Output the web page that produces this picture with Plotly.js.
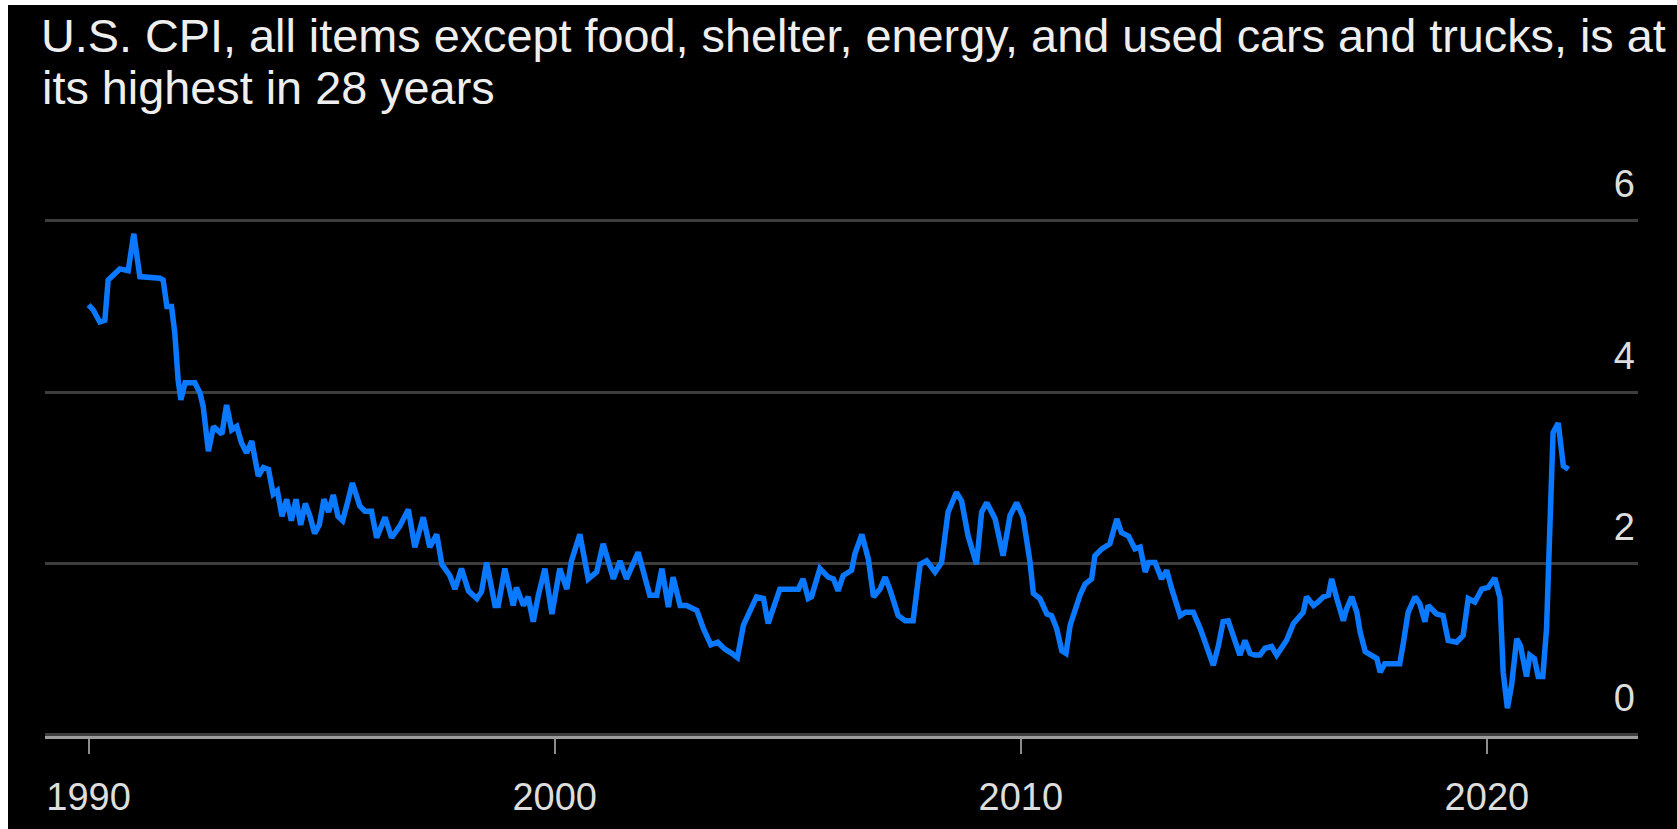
<!DOCTYPE html>
<html>
<head>
<meta charset="utf-8">
<script src="https://cdn.plot.ly/plotly-3.0.1.min.js"></script>
<style>
  html, body { margin: 0; padding: 0; background: #ffffff; overflow: hidden; }
  #chart { position: absolute; left: 8px; top: 5px; width: 1669px; height: 824px; background: #000; }
</style>
</head>
<body>
<div id="chart"></div>
<script>
// Decimal year of each reading
const years = [
  1990.00,1990.10,1990.24,1990.35,1990.42,1990.53,1990.67,1990.85,1990.97,1991.10,
  1991.53,1991.60,1991.68,1991.78,1991.85,1991.92,1991.98,1992.07,1992.28,1992.39,
  1992.46,1992.57,1992.68,1992.86,1992.96,1993.07,1993.18,1993.28,1993.39,1993.50,
  1993.57,1993.64,1993.75,1993.86,1993.96,
  1994.05,1994.15,1994.25,1994.35,1994.45,1994.55,1994.65,1994.75,1994.85,1994.95,
  1995.05,1995.15,1995.25,1995.35,1995.45,1995.55,1995.66,
  1995.82,1995.93,1996.07,1996.18,1996.36,1996.50,1996.68,1996.86,1997.00,1997.18,
  1997.32,1997.47,1997.58,1997.75,1997.86,1998.00,1998.15,1998.33,1998.43,1998.54,
  1998.72,1998.79,1998.93,1999.11,1999.18,1999.33,1999.43,1999.54,1999.65,1999.79,
  1999.94,2000.11,2000.26,2000.36,2000.54,2000.72,2000.90,2001.04,2001.26,2001.40,
  2001.54,2001.79,2002.04,2002.19,2002.30,2002.44,2002.54,2002.69,2002.83,2003.05,
  2003.19,2003.35,2003.50,2003.65,2003.80,2003.92,2004.05,2004.33,2004.48,2004.58,
  2004.83,2005.23,2005.33,2005.44,2005.51,2005.69,2005.87,2005.98,2006.08,2006.19,
  2006.37,2006.44,2006.59,2006.73,2006.84,2006.98,2007.09,2007.19,2007.37,2007.52,
  2007.69,2007.84,2007.98,2008.16,2008.30,2008.44,2008.62,2008.73,2008.87,2009.05,
  2009.16,2009.27,2009.45,2009.62,2009.77,2009.91,2010.05,2010.20,2010.27,2010.41,
  2010.56,2010.66,2010.77,2010.88,2010.97,2011.06,2011.27,2011.38,2011.52,2011.59,
  2011.74,2011.91,2012.06,2012.16,2012.31,2012.45,2012.56,2012.67,2012.74,2012.88,
  2013.02,2013.13,2013.24,2013.42,2013.53,2013.70,2013.85,2013.99,2014.13,2014.24,
  2014.34,2014.45,2014.60,2014.70,2014.81,2014.92,2015.02,2015.13,2015.24,2015.38,
  2015.49,2015.60,2015.70,2015.85,2015.95,2016.06,2016.13,2016.28,2016.38,2016.49,
  2016.60,2016.67,2016.78,2016.85,2016.92,2016.99,2017.10,2017.21,2017.28,2017.39,
  2017.53,2017.64,2017.71,2017.81,2017.99,2018.13,2018.21,2018.31,2018.46,2018.56,
  2018.67,2018.74,2018.92,2019.06,2019.17,2019.35,2019.49,2019.60,2019.74,2019.89,
  2020.03,2020.17,2020.28,2020.35,2020.44,2020.53,2020.64,2020.72,2020.85,2020.92,
  2021.02,2021.10,2021.20,2021.28,2021.35,2021.42,2021.53,2021.64,2021.75
];

// Year-over-year % change, CPI ex food, shelter, energy, used cars & trucks
const cpiValues = [
  5.02,4.96,4.82,4.84,5.31,5.37,5.44,5.42,5.85,5.35,
  5.33,5.31,5.00,5.00,4.69,4.15,3.91,4.11,4.11,3.99,
  3.83,3.31,3.60,3.51,3.85,3.56,3.60,3.41,3.29,3.43,
  3.20,3.02,3.12,3.10,2.81,
  2.85,2.55,2.75,2.50,2.75,2.45,2.70,2.55,2.35,2.45,
  2.75,2.60,2.80,2.55,2.50,2.70,2.94,
  2.67,2.61,2.61,2.30,2.54,2.30,2.44,2.63,2.19,2.54,
  2.19,2.34,1.99,1.86,1.70,1.94,1.68,1.59,1.67,2.01,
  1.51,1.51,1.94,1.51,1.72,1.51,1.61,1.32,1.63,1.94,
  1.41,1.94,1.70,2.03,2.34,1.82,1.90,2.23,1.82,2.03,
  1.82,2.13,1.63,1.63,1.94,1.49,1.84,1.51,1.51,1.45,
  1.24,1.05,1.08,1.00,0.95,0.90,1.28,1.61,1.59,1.30,
  1.70,1.70,1.82,1.59,1.61,1.94,1.84,1.82,1.68,1.86,
  1.92,2.11,2.34,2.05,1.61,1.70,1.84,1.70,1.39,1.33,
  1.33,1.99,2.03,1.90,2.01,2.60,2.83,2.73,2.32,1.99,
  2.60,2.71,2.52,2.09,2.56,2.71,2.54,2.01,1.65,1.59,
  1.41,1.39,1.24,0.98,0.95,1.28,1.63,1.76,1.82,2.09,
  2.17,2.23,2.52,2.36,2.32,2.17,2.19,1.90,2.01,2.01,
  1.82,1.92,1.70,1.39,1.43,1.43,1.24,1.04,0.81,1.04,
  1.32,1.33,1.08,0.93,1.10,0.95,0.93,0.93,1.01,1.03,
  0.93,1.03,1.10,1.30,1.37,1.43,1.61,1.51,1.55,1.61,
  1.63,1.82,1.59,1.43,1.33,1.47,1.61,1.43,1.20,0.97,
  0.93,0.89,0.73,0.83,0.83,0.83,1.08,1.43,1.61,1.53,
  1.32,1.51,1.41,1.39,1.10,1.08,1.16,1.59,1.55,1.70,
  1.72,1.83,1.60,0.73,0.31,0.58,1.12,1.04,0.68,0.93,
  0.89,0.68,0.68,1.24,2.40,3.53,3.64,3.14,3.10
];

const xTickVals = [1990, 2000, 2010, 2020];
const xTickText = ["1990", "2000", "2010", "2020"];
const yTickVals = [0, 2, 4, 6];
const yTickText = ["0", "2", "4", "6"];
const titleLine1 = "U.S. CPI, all items except food, shelter, energy, and used cars and trucks, is at";
const titleLine2 = "its highest in 28 years";

const FONT = '"Liberation Sans", Arial, Helvetica, sans-serif';

// plot area geometry (pixels inside the chart div)
const PLOT_TOP = 156;
const PLOT_BOTTOM = 731;
const PLOT_H = PLOT_BOTTOM - PLOT_TOP;

const trace = {
  x: years,
  y: cpiValues,
  type: 'scatter',
  mode: 'lines',
  line: { color: '#0a78ff', width: 5.5 },
  hoverinfo: 'x+y'
};

const layout = {
  width: 1669,
  height: 824,
  paper_bgcolor: '#000000',
  plot_bgcolor: '#000000',
  margin: { l: 37, r: 39, t: PLOT_TOP, b: 824 - PLOT_BOTTOM, pad: 0 },
  showlegend: false,
  font: { family: FONT, color: '#dddddd', size: 38 },
  title: {
    text: titleLine1,
    font: { family: FONT, size: 46.8, color: '#eeeeee' },
    x: 33 / 1669, xanchor: 'left', xref: 'container',
    y: 1 - 14 / 824, yanchor: 'top', yref: 'container',
    pad: { t: 0, b: 0, l: 0, r: 0 }
  },
  annotations: [{
    text: titleLine2,
    xref: 'paper', yref: 'paper',
    x: -0.003, xanchor: 'left',
    y: (PLOT_BOTTOM - 83) / PLOT_H, yanchor: 'middle',
    showarrow: false,
    font: { family: FONT, size: 46.8, color: '#eeeeee' }
  }],
  xaxis: {
    type: 'linear',
    range: [1989.065, 2023.242],
    tickmode: 'array',
    tickvals: xTickVals,
    ticktext: xTickText,
    showgrid: false,
    zeroline: false,
    showline: true,
    linecolor: '#9c9c9c',
    linewidth: 3,
    ticks: 'outside',
    ticklen: 15,
    tickwidth: 2,
    tickcolor: '#8c8c8c',
    ticklabelstandoff: 10,
    tickfont: { family: FONT, size: 38, color: '#dddddd' },
    fixedrange: true
  },
  yaxis: {
    range: [-0.015, 6.7],
    side: 'right',
    tickmode: 'array',
    tickvals: yTickVals,
    ticktext: yTickText,
    ticklabelposition: 'inside',
    ticklabelshift: -37,
    ticklabelstandoff: 0,
    ticks: '',
    showgrid: true,
    gridcolor: '#3d3d3d',
    gridwidth: 3,
    zeroline: false,
    showline: false,
    tickfont: { family: FONT, size: 38, color: '#dddddd' },
    fixedrange: true
  }
};

Plotly.newPlot('chart', [trace], layout, { displayModeBar: false, staticPlot: true });
</script>
</body>
</html>
